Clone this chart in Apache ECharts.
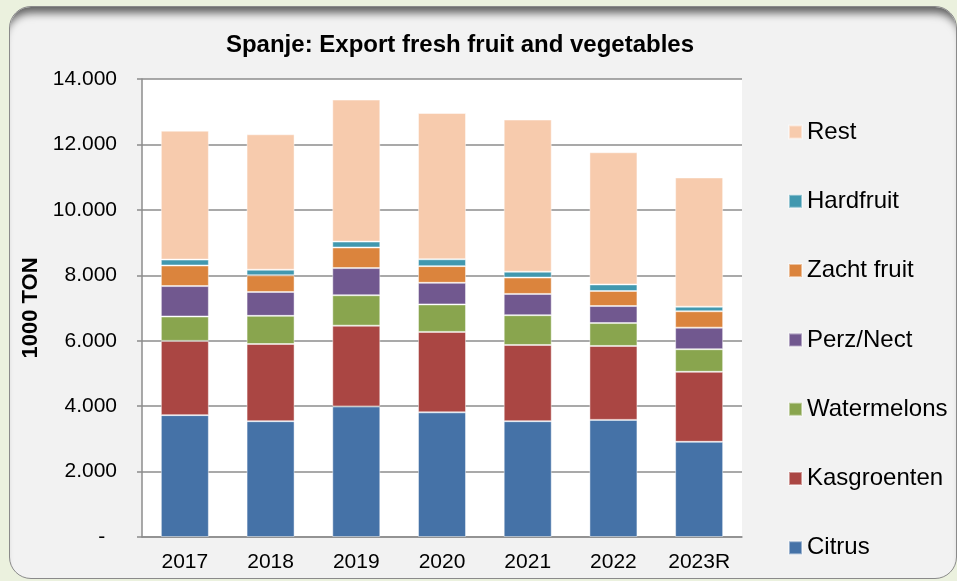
<!DOCTYPE html>
<html>
<head>
<meta charset="utf-8">
<script src="https://cdn.jsdelivr.net/npm/echarts@6/dist/echarts.min.js"></script>
<style>
  html, body { margin: 0; padding: 0; background: #ebf1de; }
  #panel {
    position: absolute; left: 9px; top: 6px; width: 946px; height: 571px;
    background: #f2f2f2; border: 1px solid #8a8a8a; border-radius: 22px;
    box-shadow: inset 0 12px 9px -6px rgba(0, 0, 0, 0.6);
  }
  #chart { position: absolute; left: 0; top: 0; width: 957px; height: 581px; }
</style>
</head>
<body>
<div id="panel"></div>
<div id="chart"></div>
<script>
// jaren en export per productgroep (1000 ton)
var years = ['2017', '2018', '2019', '2020', '2021', '2022', '2023R']
var citrus = [3725, 3540, 3990, 3810, 3540, 3580, 2910]
var kasgroenten = [2270, 2360, 2470, 2460, 2330, 2260, 2140]
var watermelons = [745, 860, 930, 840, 910, 700, 690]
var perzNect = [930, 730, 830, 660, 650, 520, 660]
var zachtFruit = [630, 510, 630, 510, 500, 460, 500]
var hardfruit = [180, 170, 180, 210, 180, 200, 140]
var rest = [3940, 4140, 4340, 4470, 4650, 4040, 3950]

var names = ['Citrus', 'Kasgroenten', 'Watermelons', 'Perz/Nect', 'Zacht fruit', 'Hardfruit', 'Rest']
var values = [citrus, kasgroenten, watermelons, perzNect, zachtFruit, hardfruit, rest]
var colors = ['#4572a7', '#aa4643', '#89a54e', '#71588f', '#db843d', '#4198af', '#f7cbad']

var font = 'Liberation Sans, Arial, sans-serif'

var series = []
names.forEach(function(name, i) {
  series.push({
    name: name,
    type: 'bar',
    stack: 'total',
    barWidth: 48,
    data: values[i],
    itemStyle: {
      color: colors[i],
      borderColor: 'rgba(255,255,255,0.45)',
      borderWidth: 1
    }
  })
})

var chart = echarts.init(document.getElementById('chart'))
chart.setOption({
  backgroundColor: 'transparent',
  animation: false,
  title: {
    text: 'Spanje: Export fresh fruit and vegetables',
    left: 460,
    top: 33,
    padding: 0,
    textAlign: 'center',
    textStyle: { fontFamily: font, fontSize: 24, fontWeight: 'bold', color: '#000' }
  },
  legend: {
    orient: 'vertical',
    left: 788,
    top: 120,
    padding: 0,
    icon: 'rect',
    itemWidth: 13,
    itemHeight: 13,
    itemGap: 45.3,
    data: names.slice().reverse(),
    textStyle: { fontFamily: font, fontSize: 24, lineHeight: 24, color: '#000', padding: [0, 0, 0, 0] }
  },
  grid: {
    left: 142,
    top: 79,
    right: 215,
    bottom: 44,
    show: true,
    backgroundColor: '#fff',
    borderWidth: 0
  },
  xAxis: {
    type: 'category',
    data: years,
    axisLine: { lineStyle: { color: '#8c8c8c', width: 1.5 } },
    axisTick: { length: 6, lineStyle: { color: '#8c8c8c', width: 1.5 } },
    axisLabel: { fontFamily: font, fontSize: 21, color: '#000', margin: 15 }
  },
  yAxis: {
    type: 'value',
    min: 0,
    max: 14000,
    interval: 2000,
    name: '1000 TON',
    nameLocation: 'middle',
    nameRotate: 90,
    nameGap: 100,
    nameTextStyle: { fontFamily: font, fontSize: 22, fontWeight: 'bold', color: '#000' },
    axisLine: { show: true, lineStyle: { color: '#8c8c8c', width: 1.5 } },
    axisTick: { show: true, length: 5, lineStyle: { color: '#8c8c8c', width: 1.5 } },
    splitLine: { lineStyle: { color: '#8c8c8c', width: 1.5 } },
    axisLabel: {
      fontFamily: font,
      fontSize: 21,
      color: '#000',
      margin: 25,
      formatter: function(v) {
        if (v === 0) return '-  '
        return String(v).replace(/\B(?=(\d{3})+(?!\d))/g, '.')
      }
    }
  },
  series: series
})
</script>
</body>
</html>
